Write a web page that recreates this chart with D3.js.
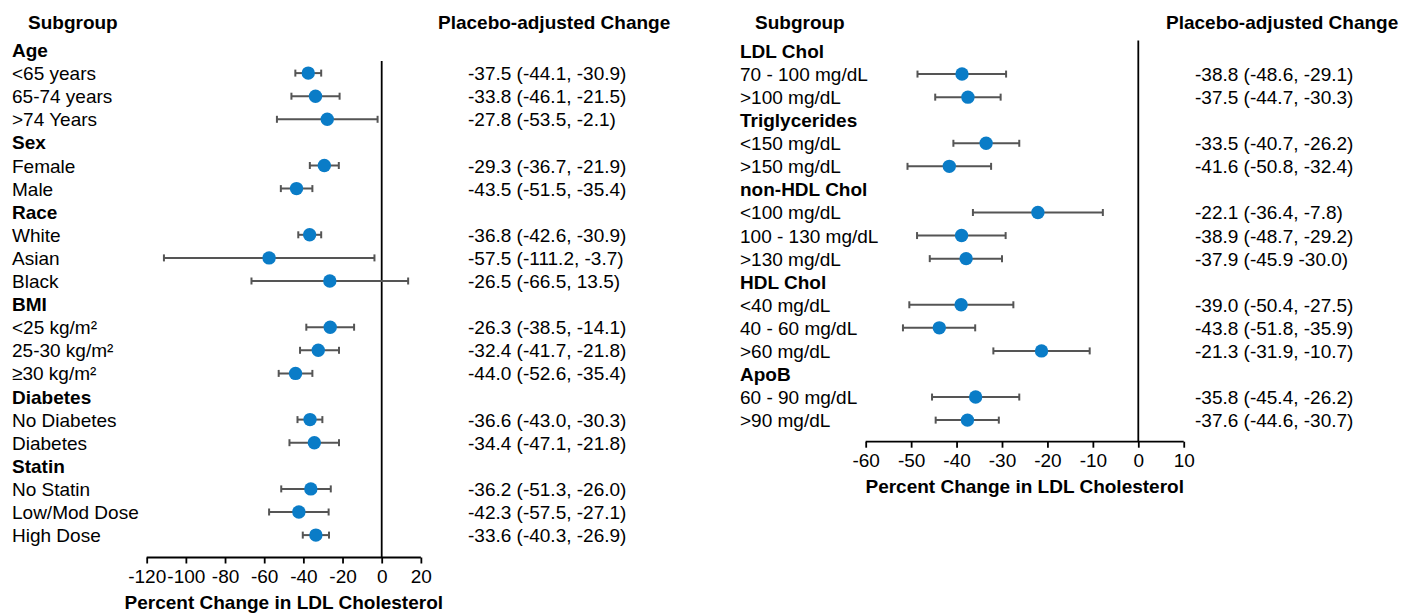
<!DOCTYPE html>
<html>
<head>
<meta charset="utf-8">
<script src="https://cdn.jsdelivr.net/npm/d3@7"></script>
<style>
  html, body { margin: 0; padding: 0; background: #fff; }
  svg { display: block; font-family: "Liberation Sans", Arial, sans-serif; }
</style>
</head>
<body>
<svg id="chart" width="1403" height="613"></svg>
<script>
// ---------- DATA ----------
const leftLabels = ["Age", "<65 years", "65-74 years", ">74 Years", "Sex", "Female", "Male",
  "Race", "White", "Asian", "Black", "BMI", "<25 kg/m²", "25-30 kg/m²", "≥30 kg/m²",
  "Diabetes", "No Diabetes", "Diabetes", "Statin", "No Statin", "Low/Mod Dose", "High Dose"];
const leftIsHeader = [1,0,0,0,1,0,0,1,0,0,0,1,0,0,0,1,0,0,1,0,0,0];
const leftEst   = [null, -37.5, -33.8, -27.8, null, -29.3, -43.5, null, -36.8, -57.5, -26.5,
  null, -26.3, -32.4, -44.0, null, -36.6, -34.4, null, -36.2, -42.3, -33.6];
const leftLow   = [null, -44.1, -46.1, -53.5, null, -36.7, -51.5, null, -42.6, -111.2, -66.5,
  null, -38.5, -41.7, -52.6, null, -43.0, -47.1, null, -51.3, -57.5, -40.3];
const leftHigh  = [null, -30.9, -21.5, -2.1, null, -21.9, -35.4, null, -30.9, -3.7, 13.5,
  null, -14.1, -21.8, -35.4, null, -30.3, -21.8, null, -26.0, -27.1, -26.9];
const leftText  = ["", "-37.5 (-44.1, -30.9)", "-33.8 (-46.1, -21.5)", "-27.8 (-53.5, -2.1)", "",
  "-29.3 (-36.7, -21.9)", "-43.5 (-51.5, -35.4)", "", "-36.8 (-42.6, -30.9)", "-57.5 (-111.2, -3.7)",
  "-26.5 (-66.5, 13.5)", "", "-26.3 (-38.5, -14.1)", "-32.4 (-41.7, -21.8)", "-44.0 (-52.6, -35.4)", "",
  "-36.6 (-43.0, -30.3)", "-34.4 (-47.1, -21.8)", "", "-36.2 (-51.3, -26.0)", "-42.3 (-57.5, -27.1)",
  "-33.6 (-40.3, -26.9)"];
const leftTicks = [-120, -100, -80, -60, -40, -20, 0, 20];

const rightLabels = ["LDL Chol", "70 - 100 mg/dL", ">100 mg/dL", "Triglycerides", "<150 mg/dL", ">150 mg/dL",
  "non-HDL Chol", "<100 mg/dL", "100 - 130 mg/dL", ">130 mg/dL", "HDL Chol", "<40 mg/dL", "40 - 60 mg/dL",
  ">60 mg/dL", "ApoB", "60 - 90 mg/dL", ">90 mg/dL"];
const rightIsHeader = [1,0,0,1,0,0,1,0,0,0,1,0,0,0,1,0,0];
const rightEst  = [null, -38.8, -37.5, null, -33.5, -41.6, null, -22.1, -38.9, -37.9, null, -39.0, -43.8, -21.3,
  null, -35.8, -37.6];
const rightLow  = [null, -48.6, -44.7, null, -40.7, -50.8, null, -36.4, -48.7, -45.9, null, -50.4, -51.8, -31.9,
  null, -45.4, -44.6];
const rightHigh = [null, -29.1, -30.3, null, -26.2, -32.4, null, -7.8, -29.2, -30.0, null, -27.5, -35.9, -10.7,
  null, -26.2, -30.7];
const rightText = ["", "-38.8 (-48.6, -29.1)", "-37.5 (-44.7, -30.3)", "", "-33.5 (-40.7, -26.2)",
  "-41.6 (-50.8, -32.4)", "", "-22.1 (-36.4, -7.8)", "-38.9 (-48.7, -29.2)", "-37.9 (-45.9 -30.0)", "",
  "-39.0 (-50.4, -27.5)", "-43.8 (-51.8, -35.9)", "-21.3 (-31.9, -10.7)", "", "-35.8 (-45.4, -26.2)",
  "-37.6 (-44.6, -30.7)"];
const rightTicks = [-60, -50, -40, -30, -20, -10, 0, 10];

const axisTitle = "Percent Change in LDL Cholesterol";
const colHeaderLabel = "Subgroup";
const colHeaderValue = "Placebo-adjusted Change";

// ---------- DRAW ----------
const svg = d3.select("#chart");
const FS = 19;
const DOT = "#0a7cc7";
const BAR = "#555555";

function panel(cfg) {
  const g = svg.append("g");
  const n = cfg.labels.length;
  const x = d3.scaleLinear().domain(cfg.domain).range(cfg.xRange);
  const y = d3.scaleLinear().domain([0, n - 1]).range(cfg.yRange);
  const rows = d3.range(n).map(i => ({
    i, label: cfg.labels[i], header: cfg.isHeader[i], est: cfg.est[i], lo: cfg.low[i], hi: cfg.high[i], txt: cfg.text[i]
  }));

  g.append("text").attr("x", cfg.subX).attr("y", cfg.headY).attr("font-size", FS).attr("font-weight", "bold")
    .attr("fill", "#000").text(colHeaderLabel);
  g.append("text").attr("x", cfg.valHeadX).attr("y", cfg.headY).attr("font-size", FS).attr("font-weight", "bold")
    .attr("fill", "#000").text(colHeaderValue);

  g.selectAll("text.lab").data(rows).join("text").attr("class", "lab")
    .attr("x", cfg.labelX).attr("y", d => y(d.i) + 7)
    .attr("font-size", FS).attr("font-weight", d => d.header ? "bold" : "normal")
    .attr("fill", "#000").text(d => d.label);

  g.selectAll("text.val").data(rows.filter(d => !d.header)).join("text").attr("class", "val")
    .attr("x", cfg.valX).attr("y", d => y(d.i) + 7)
    .attr("font-size", FS).attr("fill", "#000").text(d => d.txt);

  g.append("line").attr("x1", x(0)).attr("x2", x(0)).attr("y1", cfg.zeroTop).attr("y2", cfg.axisY)
    .attr("stroke", "#000").attr("stroke-width", 1.8);

  const axis = d3.axisBottom(x).tickValues(cfg.ticks).tickSize(6).tickPadding(6).tickFormat(d => String(d));
  const ag = g.append("g").attr("transform", `translate(0,${cfg.axisY})`).call(axis);
  ag.select(".domain").attr("stroke", "#000").attr("stroke-width", 1.8)
    .attr("d", `M${x(cfg.ticks[0])},0H${x(cfg.ticks[cfg.ticks.length-1])}`);
  ag.selectAll(".tick line").attr("stroke", "#000").attr("stroke-width", 1.8);
  ag.selectAll(".tick text").attr("font-size", FS).attr("font-family", "Liberation Sans, Arial, sans-serif")
    .attr("fill", "#000").attr("dy", "0.71em");
  g.append("text").attr("x", (x(cfg.ticks[0]) + x(cfg.ticks[cfg.ticks.length-1])) / 2)
    .attr("y", cfg.titleY).attr("text-anchor", "middle").attr("font-size", FS).attr("font-weight", "bold")
    .attr("fill", "#000").text(axisTitle);

  const data = rows.filter(d => !d.header);
  const eb = g.selectAll("g.eb").data(data).join("g").attr("class", "eb");
  eb.append("line").attr("x1", d => x(d.lo)).attr("x2", d => x(d.hi)).attr("y1", d => y(d.i)).attr("y2", d => y(d.i))
    .attr("stroke", BAR).attr("stroke-width", 2);
  eb.append("line").attr("x1", d => x(d.lo)).attr("x2", d => x(d.lo)).attr("y1", d => y(d.i) - 3.5).attr("y2", d => y(d.i) + 3.5)
    .attr("stroke", BAR).attr("stroke-width", 2);
  eb.append("line").attr("x1", d => x(d.hi)).attr("x2", d => x(d.hi)).attr("y1", d => y(d.i) - 3.5).attr("y2", d => y(d.i) + 3.5)
    .attr("stroke", BAR).attr("stroke-width", 2);
  eb.append("circle").attr("cx", d => x(d.est)).attr("cy", d => y(d.i)).attr("r", 6.7).attr("fill", DOT);
}

panel({
  labels: leftLabels, isHeader: leftIsHeader, est: leftEst, low: leftLow, high: leftHigh, text: leftText,
  ticks: leftTicks, domain: [-120, 0], xRange: [146.7, 381.7], yRange: [50, 50 + 21 * 23.1],
  labelX: 12, subX: 28, valHeadX: 438, valX: 468, headY: 29, zeroTop: 61, axisY: 557.5, titleY: 609
});

panel({
  labels: rightLabels, isHeader: rightIsHeader, est: rightEst, low: rightLow, high: rightHigh, text: rightText,
  ticks: rightTicks, domain: [-60, 0], xRange: [865.7, 1138.3], yRange: [51, 51 + 16 * 23.07],
  labelX: 740, subX: 755, valHeadX: 1166, valX: 1195, headY: 29, zeroTop: 40.5, axisY: 441.7, titleY: 493
});
</script>
</body>
</html>
